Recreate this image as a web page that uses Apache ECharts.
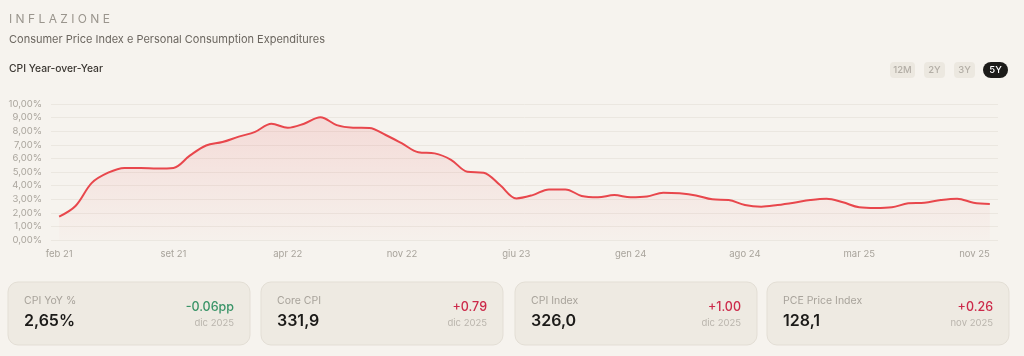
<!DOCTYPE html>
<html><head><meta charset="utf-8">
<script src="https://cdn.jsdelivr.net/npm/echarts@6/dist/echarts.min.js"></script>
<style>html,body{margin:0;padding:0;background:#f6f3ee;}#c{width:1024px;height:356px;}</style>
</head><body><div id="c"></div>
<script>
const months = ['feb 21','mar 21','apr 21','mag 21','giu 21','lug 21','ago 21','set 21','ott 21','nov 21','dic 21',
 'gen 22','feb 22','mar 22','apr 22','mag 22','giu 22','lug 22','ago 22','set 22','ott 22','nov 22','dic 22',
 'gen 23','feb 23','mar 23','apr 23','mag 23','giu 23','lug 23','ago 23','set 23','ott 23','nov 23','dic 23',
 'gen 24','feb 24','mar 24','apr 24','mag 24','giu 24','lug 24','ago 24','set 24','ott 24','nov 24','dic 24',
 'gen 25','feb 25','mar 25','apr 25','mag 25','giu 25','lug 25','ago 25','set 25','ott 25','nov 25'];
const cpiYoY = [1.72,2.5,4.2,4.95,5.3,5.3,5.25,5.3,6.2,6.95,7.2,7.6,7.95,8.55,8.25,8.55,9.02,8.45,8.26,8.24,7.72,7.1,6.45,6.37,5.9,5.02,4.95,4.04,3.06,3.3,3.72,3.72,3.24,3.14,3.3,3.14,3.19,3.48,3.43,3.28,2.99,2.94,2.57,2.45,2.57,2.74,2.94,3.04,2.77,2.4,2.35,2.4,2.7,2.74,2.94,3.04,2.74,2.65];
const yTicks = [0,1,2,3,4,5,6,7,8,9,10];
const rangeButtons = ['12M','2Y','3Y','5Y'];
const cards = [
 {label:'CPI YoY %', value:'2,65%', change:'-0.06pp', date:'dic 2025', up:false},
 {label:'Core CPI', value:'331,9', change:'+0.79', date:'dic 2025', up:true},
 {label:'CPI Index', value:'326,0', change:'+1.00', date:'dic 2025', up:true},
 {label:'PCE Price Index', value:'128,1', change:'+0.26', date:'nov 2025', up:true}
];
const FONT = 'Inter, "Noto Sans", sans-serif';
const chart = echarts.init(document.getElementById('c'), null, {renderer:'canvas'});
const graphics = [
 {type:'text', left:9, top:13, style:{text:'I N F L A Z I O N E', font:'400 12px '+FONT, fill:'#9a958d'}},
 {type:'text', left:9, top:34, style:{text:'Consumer Price Index e Personal Consumption Expenditures', font:'400 11px '+FONT, fill:'#6b665f'}},
 {type:'text', left:9, top:64, style:{text:'CPI Year-over-Year', font:'500 10.3px '+FONT, fill:'#3a3631'}}
];
const btnX = [890,924,954,983], btnW = [25,21,21,25];
rangeButtons.forEach((b,i)=>{
 const active = i===rangeButtons.length-1;
 graphics.push({type:'rect', shape:{x:btnX[i], y:62, width:btnW[i], height:16, r:active?8:4},
   style:{fill: active?'#1c1b19':'#ece8e0'}});
 graphics.push({type:'text', x:btnX[i]+btnW[i]/2, y:70, style:{text:b, font:'500 9.5px '+FONT, fill: active?'#ffffff':'#b3aea6', align:'center', verticalAlign:'middle'}});
});
const cardX = [8,261,515,767], cardW = 242;
cards.forEach((c,i)=>{
 const x = cardX[i];
 graphics.push({type:'rect', shape:{x:x, y:282, width:cardW, height:63, r:10}, style:{fill:'#eeeae2', stroke:'#e3ded5', lineWidth:1}});
 graphics.push({type:'text', x:x+16, y:301, style:{text:c.label, font:'400 10.5px '+FONT, fill:'#a8a39b', verticalAlign:'middle'}});
 graphics.push({type:'text', x:x+16, y:321, style:{text:c.value, font:'600 16px '+FONT, fill:'#1c1b19', verticalAlign:'middle'}});
 graphics.push({type:'text', x:x+cardW-16, y:307, style:{text:c.change, font:'500 12.5px '+FONT, fill: c.up?'#cc2a4a':'#3a9468', align:'right', verticalAlign:'middle'}});
 graphics.push({type:'text', x:x+cardW-16, y:323, style:{text:c.date, font:'400 9.5px '+FONT, fill:'#bab5ad', align:'right', verticalAlign:'middle'}});
});
chart.setOption({
 backgroundColor:'#f6f3ee',
 animation:false,
 textStyle:{fontFamily:FONT},
 grid:{left:51, right:26, top:104, bottom:116},
 xAxis:{type:'category', data:months, boundaryGap:true,
  axisLine:{show:false}, axisTick:{show:false},
  axisLabel:{color:'#a8a39b', fontSize:9.5, margin:9,
   interval:(idx)=> (idx%7===0 && idx<56) || idx===months.length-1,
   alignMaxLabel:'right'},
  splitLine:{show:false}},
 yAxis:{type:'value', min:yTicks[0], max:yTicks[yTicks.length-1], interval:1,
  axisLine:{show:false}, axisTick:{show:false},
  axisLabel:{color:'#aaa59d', fontSize:9.5, margin:9, formatter:(v)=>v.toFixed(2).replace('.',',')+'%'},
  splitLine:{lineStyle:{color:'#ebe7e0', width:1}}},
 series:[{type:'line', data:cpiYoY, smooth:0.35, symbol:'none',
  lineStyle:{color:'#e8474c', width:2},
  areaStyle:{color:new echarts.graphic.LinearGradient(0,0,0,1,[{offset:0,color:'rgba(232,71,76,0.2)'},{offset:1,color:'rgba(232,71,76,0.02)'}])}}],
 graphic:graphics
});
</script></body></html>
